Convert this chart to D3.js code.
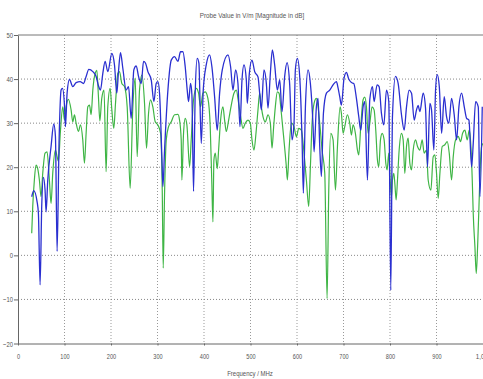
<!DOCTYPE html>
<html>
<head>
<meta charset="utf-8">
<script src="https://cdn.jsdelivr.net/npm/d3@7"></script>
<style>
  body { margin: 0; background: #fff; }
  svg text { font-family: "Liberation Sans", Arial, sans-serif; fill: #555; }
</style>
</head>
<body>
<div id="chart"></div>
<script>
// values: [frequency MHz, dB]
const blueSeries = [
  [29.5,13.3],[33.8,14.7],[41,12.2],[43.9,9.5],[47.5,-6.7],[51,11.1],[54.6,17.7],[58.2,14.8],[60.4,9.9],[64,17.1],
  [71.1,24.7],[76.9,29.8],[80.5,27],[84.1,0.9],[88.4,26.2],[92.7,37.5],[95.6,37.9],[99.9,34.1],[102,29.2],[105.6,36.8],
  [110.6,39.9],[117.8,38.3],[125,39.2],[133.6,39.4],[140.8,39],[146.5,40.6],[152.3,42.2],[160.9,41.7],[168,40.6],[173,38.5],
  [177.3,37.5],[182.4,41.3],[187.4,44],[193.1,41.7],[201.8,45.8],[207.5,43.2],[212.5,36.8],[216.1,41.7],[220.4,46],[225.5,42.4],
  [232.6,37.5],[237.7,38.3],[243.4,31.1],[249.1,42.1],[254.2,43],[259.2,40.6],[265,39],[270,44],[274.3,43.6],[279.3,41.7],
  [286.5,39.8],[292.2,34.9],[297.2,39],[300.8,39.4],[304.4,36.8],[309.4,22.4],[311.6,15.6],[315.2,23.9],[322.4,37.5],[329.6,44.3],
  [336.7,45.1],[343.9,44],[349.5,46.2],[354.6,46.2],[359.6,42.8],[363.9,37.5],[366.8,34.9],[371.1,39],[374,36.4],[377.5,14.5],
  [381.1,36.8],[385.4,44.7],[389,43.6],[394.1,25.4],[398.4,37.5],[404.8,43.2],[412,45.5],[417,42.8],[422.8,36],[428.5,28.4],
  [433.6,36.8],[439.3,42.1],[451.5,45.5],[457.2,42.8],[462.3,37.5],[468,42.1],[473,39],[477.3,29.2],[481.7,39.8],[486,43.2],
  [491,39.8],[493.1,34.5],[497.5,41.3],[503.2,44.3],[509,41.7],[516.1,40.5],[519.7,36.8],[523.3,33],[529,42.1],[534.1,39],
  [537.6,33.4],[542.7,41.3],[547,46.6],[552,43.2],[557.7,37.5],[562.8,39.8],[567.8,32.6],[573.5,40.6],[578.6,43.7],[584.3,38.7],
  [589.3,26.2],[593.6,30],[596.5,42.1],[600.8,44.7],[605.8,40.6],[610.9,26.2],[613.7,14.1],[618.1,33.7],[623.8,42.1],[628.8,39],
  [634.6,29.2],[636.7,23.5],[641.7,33.7],[645.3,35.6],[648.9,24.7],[652.5,17.9],[656.8,32.2],[663.3,36.8],[670.4,37.5],[677.6,38.7],
  [684.8,39.4],[688.3,38],[691.9,36],[695.5,34.1],[701.2,40.2],[706.3,41.5],[711.3,40],[717,39.2],[722.1,39],[727.8,35.6],
  [732.8,31.5],[737.1,28.4],[742.1,33.7],[745.7,34.9],[751.5,17.1],[756.5,35.3],[762.3,38.3],[765.8,34.9],[772.3,38.7],[776.6,38.3],
  [781.6,32.2],[786.7,29.6],[792.4,37.5],[797.4,34.9],[801.7,-7.9],[805.3,31.5],[811.8,40.6],[817.5,39],[824.7,31.9],[830.5,28.4],
  [835.5,33.7],[841.2,37.5],[846.3,36.8],[852,30.7],[857,33],[860.6,34],[864.2,32.6],[871.4,36.8],[876.4,33.4],[880.7,20.1],
  [885.7,34.5],[889.3,33],[894.3,23.9],[898,37.5],[901.5,41],[906,38.3],[911,27.7],[916.6,36],[921.6,31.5],[926.6,30],
  [932.4,35.6],[938.1,31.9],[943.2,26.2],[948.2,33.7],[953.9,36.8],[959.7,33.7],[964.7,31.1],[969.7,30.7],[975.5,20.1],[979,25.4],
  [984.1,34.9],[989.8,33.7],[993.4,13.3],[998.4,33.7]
];

const greenSeries = [
  [29.5,5],[31.7,11.1],[35.2,17.1],[38.8,20.5],[42.4,19.7],[46,17.1],[49.6,13.3],[53.2,18.6],[58.2,23.2],[62.5,23.5],
  [67.5,17.1],[71.1,11.8],[74.7,18.6],[80.5,23.9],[84.1,22.4],[87,21.3],[91.2,28.1],[96.3,33.7],[99.9,30.7],[103.4,33.7],
  [108.5,35.4],[114.2,33],[117.8,30.3],[121.4,31.9],[125,30],[130,28.1],[134.3,29.6],[139.3,26.2],[142.9,20.9],[146.5,27.7],
  [150.1,33.7],[153.7,34.1],[157.3,31.9],[160.9,37.5],[165.9,41.3],[169.5,42],[173,36],[176,30.5],[180,35.5],[185,37.5],
  [189.5,19],[193.1,33.7],[198.2,37.9],[201.8,33],[206,28.8],[209.7,34.5],[214.7,41.3],[218.3,41.7],[223.3,39],[229,38.3],
  [234.8,33.7],[241.2,15.2],[247,33.7],[252,40.2],[256.3,22.4],[261.3,37.5],[266.4,40.9],[272.1,34.5],[276.4,24.3],[280.7,32.2],
  [285,35.3],[290,33.7],[295.1,30.3],[300.8,29.6],[306.6,27.7],[310.2,14.8],[312.3,-2.9],[315.2,14.1],[318.8,26.2],[323.8,29.2],
  [329.6,30.3],[336.7,31.9],[343.9,32],[347.4,30.7],[351,26.2],[352.4,17.1],[356,27.7],[359.6,31.1],[363.2,29.6],[369,20.1],
  [372.5,26.2],[377.5,35.3],[383.3,37.9],[388.3,36.8],[392.6,33.7],[397.7,36.8],[402.7,37.1],[408.4,35.6],[413.4,29.2],[417,15.6],
  [419.2,7.6],[421.3,21.6],[424.2,23.2],[428.5,19.7],[431.4,23.9],[435.7,30.7],[440.7,33.7],[444.3,30.7],[447.9,28.1],[453,30.7],
  [458.7,34.1],[464.4,36.8],[469.4,37.5],[474.5,34.5],[478.8,31.5],[483.8,28.8],[488.8,30],[494.6,30.7],[499.6,30],[503.2,26.2],
  [507.5,23.9],[511.8,27.7],[516.1,33],[519.7,36.8],[523.3,33.7],[526.9,31.5],[531.9,30.3],[537.6,31.9],[542.7,30],[546.3,24.3],
  [549.8,29.2],[553.4,33.7],[557.7,37.1],[561.3,36.8],[566.4,32.2],[571.9,26.2],[577.1,20.1],[579.3,17.1],[582.9,23.9],[587.9,30],
  [593.6,29.2],[598.7,26.9],[603.7,28.8],[609.4,28.4],[614.5,23.9],[620.2,17.1],[625.2,11.1],[628.8,20.1],[632.4,30],[636.7,34.5],
  [641.7,35.6],[645.3,33.7],[648.9,30],[653.9,23.9],[659.7,18.6],[664.7,-9.8],[668.3,14.8],[672.6,27.7],[677.6,26.2],[682.7,14.8],
  [687,24.7],[692.7,33.7],[695.5,32.2],[699.1,27.7],[702.7,29.2],[708.4,31.9],[713.4,30],[717,27.3],[720.6,29.6],[725.6,27.7],
  [730,23.9],[732.8,22.8],[737.1,29.2],[742.1,35.3],[745.7,35.9],[749.3,33.7],[752.9,27.7],[756.5,29.9],[761.5,33.7],[765.8,33],
  [769.4,28.4],[773,21.6],[775.9,20.1],[779.5,26.2],[783.1,27.7],[787.4,26.2],[791,20.9],[793.8,19.4],[797.4,23.2],[800.3,17.1],
  [803.2,13.3],[805.3,17.1],[808.2,18.6],[810.4,16.3],[813.2,12.6],[816.1,17.1],[819.7,23.9],[824.7,27.7],[828.3,26.2],[831.9,18.6],
  [835.5,24.7],[839.1,26.6],[842.7,20.9],[846.3,19.4],[849.9,23.9],[854.9,26.2],[859.2,24.7],[864.2,23.9],[869.2,26.2],[873.5,23.2],
  [878.5,23.9],[882.1,17.1],[887.9,14.8],[892.9,22.4],[896.5,22.8],[900.1,18.6],[903.7,12.9],[907.3,18.6],[912.3,24.7],[918,25.1],
  [923.1,25.8],[927.4,23.2],[932.4,17.1],[936,22.4],[941,26.2],[946.8,27],[951.8,25.8],[956.1,27.7],[961.1,28.4],[966.1,26.2],
  [970.4,28.4],[974,24.7],[976.9,17.1],[979,9.5],[982.6,2],[985.5,-4.1],[988.4,2],[991.3,11.1],[994.1,20.1],[997,24.7],[1000,25.4]
];

const xTicks = [0, 100, 200, 300, 400, 500, 600, 700, 800, 900, 1000];
const yTicks = [-20, -10, 0, 10, 20, 30, 40, 50];
const title = 'Probe Value in V/m [Magnitude in dB]';
const xTitle = 'Frequency / MHz';

const W = 483, H = 379;
const margin = { left: 18, right: 483, top: 35, bottom: 343.5 };

const svg = d3.select('#chart').append('svg')
  .attr('width', W)
  .attr('height', H);

const x = d3.scaleLinear().domain([0, 1000]).range([margin.left, margin.right]);
const y = d3.scaleLinear().domain([-20, 50]).range([margin.bottom, margin.top]);

// squeeze text like the narrow font in the picture
function narrow(sel, perChar) {
  sel.each(function () {
    const t = d3.select(this);
    t.attr('textLength', t.text().length * perChar).attr('lengthAdjust', 'spacingAndGlyphs');
  });
}

// grid
svg.append('g').selectAll('line')
  .data(xTicks.filter(d => d > 0 && d < 1000))
  .join('line')
  .attr('x1', d => x(d)).attr('x2', d => x(d))
  .attr('y1', margin.top).attr('y2', margin.bottom)
  .attr('stroke', '#999').attr('stroke-dasharray', '1,2');

svg.append('g').selectAll('line')
  .data(yTicks.filter(d => d > -20 && d < 50))
  .join('line')
  .attr('x1', margin.left).attr('x2', margin.right)
  .attr('y1', d => y(d)).attr('y2', d => y(d))
  .attr('stroke', '#888').attr('stroke-dasharray', '1,2');

// top frame line
svg.append('line')
  .attr('x1', margin.left).attr('x2', margin.right)
  .attr('y1', margin.top).attr('y2', margin.top)
  .attr('stroke', '#777');

// axes
const xAxis = svg.append('g')
  .attr('transform', `translate(0,${margin.bottom})`)
  .call(d3.axisBottom(x).tickValues(xTicks).tickSize(2).tickSizeOuter(0));
const yAxis = svg.append('g')
  .attr('transform', `translate(${margin.left},0)`)
  .call(d3.axisLeft(y).tickValues(yTicks).tickSize(4).tickSizeOuter(0));

[xAxis, yAxis].forEach(g => {
  g.select('.domain').attr('stroke', '#666');
  g.selectAll('.tick line').attr('stroke', '#666');
  g.selectAll('text').attr('font-size', 8).attr('fill', '#555');
});
xAxis.selectAll('text').attr('dy', '0.71em').attr('y', 10);
yAxis.selectAll('text').attr('x', -5);
narrow(xAxis.selectAll('text'), 3.1);
narrow(yAxis.selectAll('text'), 3.3);

// lines
const line = d3.line()
  .x(d => x(d[0]))
  .y(d => y(d[1]))
  .curve(d3.curveMonotoneX);

svg.append('path')
  .datum(greenSeries)
  .attr('fill', 'none')
  .attr('stroke', '#3fb545')
  .attr('stroke-width', 1.2)
  .attr('d', line);

svg.append('path')
  .datum(blueSeries)
  .attr('fill', 'none')
  .attr('stroke', '#2a2fd0')
  .attr('stroke-width', 1.3)
  .attr('d', line);

// titles
svg.append('text')
  .attr('x', 252).attr('y', 18)
  .attr('text-anchor', 'middle')
  .attr('font-size', 8)
  .text(title)
  .call(narrow, 2.9);

svg.append('text')
  .attr('x', 250).attr('y', 376)
  .attr('text-anchor', 'middle')
  .attr('font-size', 8)
  .text(xTitle)
  .call(narrow, 3.05);
</script>
</body>
</html>
